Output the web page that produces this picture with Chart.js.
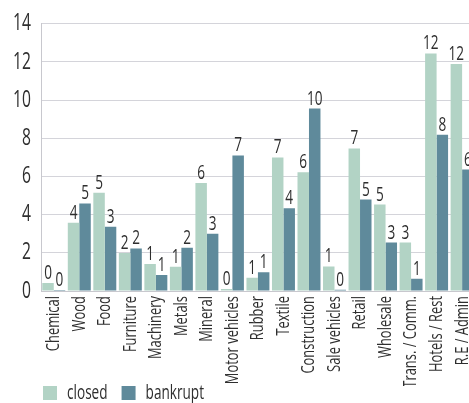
<!DOCTYPE html>
<html>
<head>
<meta charset="utf-8">
<script src="https://cdn.jsdelivr.net/npm/chart.js@4/dist/chart.umd.min.js"></script>
<style>
  html, body { margin: 0; padding: 0; background: #fff; overflow: hidden; }
  #wrap { width: 469px; height: 403px; overflow: hidden; }
</style>
</head>
<body>
<div id="wrap"><canvas id="grafico" width="490" height="413"></canvas></div>
<script>
const categorias = ['Chemical', 'Wood', 'Food', 'Furniture', 'Machinery', 'Metals', 'Mineral',
  'Motor vehicles', 'Rubber', 'Textile', 'Construction', 'Sale vehicles', 'Retail',
  'Wholesale', 'Trans. / Comm.', 'Hotels / Rest', 'R.E / Admin'];
const closed = [0.42, 3.58, 5.15, 1.99, 1.41, 1.27, 5.66, 0.1, 0.7, 7.0, 6.22, 1.29, 7.47, 4.53, 2.54, 12.45, 11.9];
const bankrupt = [0.05, 4.59, 3.37, 2.23, 0.84, 2.27, 3.0, 7.1, 0.98, 4.34, 9.56, 0.07, 4.79, 2.54, 0.64, 8.19, 6.36];
const yTicks = [0, 2, 4, 6, 8, 10, 12, 14];

const colores = ['#b2d3c5', '#5f8a9b'];
const fuente = '"Open Sans", "Noto Sans", sans-serif';
const estrecho = 0.68; // no hay fuente condensada instalada: se comprime el texto a mano

Chart.defaults.font.family = fuente;
Chart.defaults.color = '#2e2e2e';

const canvas = document.getElementById('grafico');
const ctx = canvas.getContext('2d');

// texto condensado: escala horizontal en fillText y measureText
const fillOrig = ctx.fillText.bind(ctx);
const measureOrig = ctx.measureText.bind(ctx);
ctx.fillText = function (t, x, y) {
  this.save();
  this.translate(x, y);
  this.scale(estrecho, 1);
  fillOrig(t, 0, 0);
  this.restore();
};
ctx.measureText = function (t) {
  const m = measureOrig(t);
  return {
    width: m.width * estrecho,
    actualBoundingBoxAscent: m.actualBoundingBoxAscent,
    actualBoundingBoxDescent: m.actualBoundingBoxDescent,
    actualBoundingBoxLeft: m.actualBoundingBoxLeft * estrecho,
    actualBoundingBoxRight: m.actualBoundingBoxRight * estrecho
  };
};

// etiquetas encima de cada barra (valor redondeado)
const etiquetas = {
  id: 'etiquetas',
  afterLayout(chart) {
    // leyenda alineada con el eje y; etiquetas del eje x sin recortar
    chart.legend.left += 29;
    chart.scales.x.bottom = chart.scales.x.top + 95;
  },
  afterDatasetsDraw(chart) {
    const c = chart.ctx;
    c.save();
    c.font = '20px ' + fuente;
    c.fillStyle = '#2e2e2e';
    c.textAlign = 'center';
    c.textBaseline = 'alphabetic';
    chart.data.datasets.forEach((ds, i) => {
      chart.getDatasetMeta(i).data.forEach((bar, j) => {
        c.fillText(Math.round(ds.data[j]), bar.x, bar.y - 4);
      });
    });
    c.restore();
  }
};

new Chart(ctx, {
  type: 'bar',
  data: {
    labels: categorias,
    datasets: [
      { label: 'closed', data: closed, backgroundColor: colores[0] },
      { label: 'bankrupt', data: bankrupt, backgroundColor: colores[1] }
    ]
  },
  options: {
    responsive: false,
    animation: false,
    categoryPercentage: 0.9,
    barPercentage: 1.0,
    layout: { padding: { top: 23, right: 3, left: 0, bottom: 0 } },
    plugins: {
      legend: {
        position: 'bottom',
        align: 'start',
        labels: {
          boxWidth: 14,
          boxHeight: 14,
          padding: 14,
          color: '#2e2e2e',
          font: { size: 20 }
        }
      },
      tooltip: { enabled: false }
    },
    scales: {
      x: {
        grid: { display: false, drawTicks: false },
        border: { color: '#c8c8ce' },
        ticks: {
          autoSkip: false,
          minRotation: 90,
          maxRotation: 90,
          padding: 5,
          color: '#2e2e2e',
          font: { size: 19 }
        },
        afterFit: s => { s.height = 78; }
      },
      y: {
        min: 0,
        max: 14,
        afterBuildTicks: s => { s.ticks = yTicks.map(v => ({ value: v })); },
        grid: { color: '#d4d4da', drawTicks: false },
        border: { color: '#c8c8ce' },
        ticks: { padding: 10, color: '#2e2e2e', font: { size: 23 } },
        afterFit: s => { s.width = 41; }
      }
    }
  },
  plugins: [etiquetas]
});
</script>
</body>
</html>
